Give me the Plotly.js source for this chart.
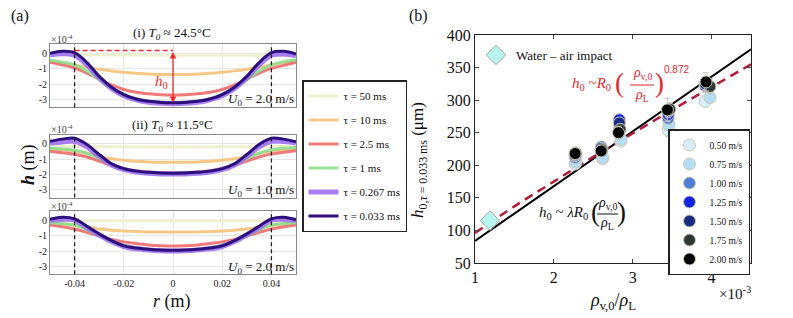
<!DOCTYPE html>
<html><head><meta charset="utf-8">
<script src="https://cdn.plot.ly/plotly-3.0.1.min.js"></script>
<style>html,body{margin:0;padding:0;background:#fff}#chart{width:793px;height:318px}</style>
</head><body><div id="chart"></div>
<script>
// ---------- Panel (a): film profiles h(r), values in units of 1e-4 m ----------
const r = [-0.05,-0.045,-0.04,-0.035,-0.03,-0.025,-0.02,-0.015,-0.01,-0.005,0,0.005,0.01,0.015,0.02,0.025,0.03,0.035,0.04,0.045,0.05];
const tauLabels = ['τ = 50 ms','τ = 10 ms','τ = 2.5 ms','τ = 1 ms','τ = 0.267 ms','τ = 0.033 ms'];

// (i) T0 ≈ 24.5°C, U0 = 2.0 m/s
const hI_50   = [-0.06,-0.07,-0.08,-0.09,-0.1,-0.1,-0.11,-0.11,-0.12,-0.12,-0.12,-0.12,-0.12,-0.12,-0.12,-0.12,-0.13,-0.13,-0.14,-0.14,-0.15];
const hI_10   = [-0.5,-0.62,-0.78,-0.92,-1.04,-1.15,-1.23,-1.3,-1.34,-1.37,-1.38,-1.37,-1.34,-1.3,-1.23,-1.14,-1.03,-0.9,-0.75,-0.6,-0.48];
const hI_2p5  = [-0.57,-0.75,-0.95,-1.28,-1.68,-2.05,-2.35,-2.53,-2.63,-2.69,-2.71,-2.69,-2.63,-2.53,-2.35,-2.05,-1.68,-1.3,-0.98,-0.78,-0.6];
const hI_1    = [-0.45,-0.58,-0.75,-1.15,-1.72,-2.25,-2.65,-2.95,-3.1,-3.17,-3.19,-3.17,-3.1,-2.95,-2.65,-2.25,-1.72,-1.15,-0.75,-0.55,-0.42];
const hI_0267 = [-0.1,-0.02,-0.12,-0.75,-1.6,-2.28,-2.75,-3.02,-3.18,-3.25,-3.27,-3.25,-3.18,-3.02,-2.75,-2.28,-1.6,-0.75,-0.12,-0.04,-0.15];
const hI_0033 = [0,0.13,0.04,-0.6,-1.5,-2.2,-2.68,-2.97,-3.12,-3.19,-3.21,-3.19,-3.12,-2.97,-2.68,-2.2,-1.5,-0.6,0.05,0.13,-0.05];

// (ii) T0 ≈ 11.5°C, U0 = 1.0 m/s
const hII_50   = [-0.18,-0.18,-0.19,-0.19,-0.2,-0.2,-0.2,-0.2,-0.21,-0.21,-0.21,-0.21,-0.21,-0.2,-0.2,-0.2,-0.2,-0.19,-0.19,-0.18,-0.18];
const hII_10   = [-0.35,-0.4,-0.48,-0.62,-0.82,-0.98,-1.08,-1.14,-1.18,-1.2,-1.2,-1.2,-1.18,-1.14,-1.08,-0.98,-0.82,-0.62,-0.48,-0.4,-0.35];
const hII_2p5  = [-0.5,-0.58,-0.68,-0.86,-1.12,-1.4,-1.62,-1.76,-1.84,-1.88,-1.9,-1.88,-1.84,-1.76,-1.62,-1.4,-1.12,-0.86,-0.66,-0.55,-0.45];
const hII_1    = [-0.3,-0.35,-0.42,-0.62,-0.95,-1.38,-1.66,-1.82,-1.9,-1.94,-1.95,-1.94,-1.9,-1.82,-1.66,-1.38,-0.95,-0.62,-0.4,-0.3,-0.25];
const hII_0267 = [0.05,0.12,0.16,-0.2,-0.82,-1.38,-1.68,-1.84,-1.92,-1.96,-1.97,-1.96,-1.92,-1.84,-1.68,-1.38,-0.82,-0.2,0.16,0.14,0.05];
const hII_0033 = [0.16,0.3,0.36,-0.05,-0.7,-1.3,-1.62,-1.78,-1.86,-1.9,-1.91,-1.9,-1.86,-1.78,-1.62,-1.3,-0.7,-0.05,0.36,0.3,0.12];

// (iii) U0 = 2.0 m/s
const hIII_50   = [-0.03,-0.03,-0.03,-0.03,-0.03,-0.03,-0.03,-0.03,-0.03,-0.03,-0.03,-0.03,-0.03,-0.03,-0.03,-0.03,-0.03,-0.03,-0.03,-0.03,-0.03];
const hIII_10   = [-0.15,-0.22,-0.33,-0.45,-0.56,-0.64,-0.7,-0.73,-0.75,-0.76,-0.76,-0.76,-0.75,-0.73,-0.7,-0.64,-0.56,-0.45,-0.33,-0.24,-0.17];
const hIII_2p5  = [-0.3,-0.42,-0.56,-0.78,-1.02,-1.24,-1.4,-1.5,-1.6,-1.65,-1.67,-1.65,-1.6,-1.5,-1.4,-1.24,-1.02,-0.78,-0.56,-0.42,-0.3];
const hIII_1    = [-0.15,-0.22,-0.3,-0.6,-1.0,-1.35,-1.6,-1.78,-1.9,-1.96,-1.98,-1.96,-1.9,-1.78,-1.6,-1.35,-1.0,-0.6,-0.3,-0.2,-0.15];
const hIII_0267 = [0.0,0.06,0.02,-0.48,-0.95,-1.38,-1.7,-1.85,-1.93,-1.98,-2.0,-1.98,-1.93,-1.85,-1.7,-1.38,-0.95,-0.48,0.02,0.06,0.0];
const hIII_0033 = [0.06,0.2,0.1,-0.38,-0.88,-1.32,-1.66,-1.8,-1.88,-1.93,-1.95,-1.93,-1.88,-1.8,-1.66,-1.32,-0.88,-0.38,0.1,0.2,0.04];

// ---------- Panel (b): h0 vs density ratio (x in 1e-3, y in µm) ----------
const velLabels = ['0.50 m/s','0.75 m/s','1.00 m/s','1.25 m/s','1.50 m/s','1.75 m/s','2.00 m/s'];
const x050 = [2.27,2.62,2.85,3.45,3.92], y050 = [202,210,237,254,298], e050 = [5,6,6,10,8];
const x075 = [2.28,2.62,2.85,3.46,3.98], y075 = [205,212,240,262,304], e075 = [6,8,6,8,8];
const x100 = [2.27,2.60,2.83,3.45,3.92], y100 = [212,222,255,272,322], e100 = [6,8,8,8,10];
const x125 = [2.27,2.60,2.83,3.45,3.92], y125 = [215,228,270,278,322], e125 = [5,6,8,8,10];
const x150 = [2.27,2.60,2.83,3.45,3.92], y150 = [217,226,265,283,325], e150 = [5,6,8,10,10];
const x175 = [2.28,2.61,2.84,3.47,3.98], y175 = [218,224,255,286,321], e175 = [6,6,8,10,12];
const x200 = [2.27,2.60,2.82,3.44,3.93], y200 = [218,222,250,285,328], e200 = [10,8,10,18,14];
const waterX = [1.19], waterY = [115];
const linFitX = [1, 4.5], linFitY = [84, 378];
const powFitX = [1,1.5,2,2.5,3,3.5,4,4.5], powFitY = [96,137,175,213,249,285,320,355];

// ---------- styles ----------
const W = 793, H = 318;
const tauColors = ['#eef0cf','#f5c27a','#ee6b6b','#8ddf8f','#9a68f2','#2c0f7d'];
const tauWidths = [3,3,3,3,5,3];
const tauOpac = [1,0.9,0.9,0.9,0.85,1];
const velColors = ['#d9eefa','#b4def5','#4f7fd4','#1224dd','#1a2d80','#2f3836','#000000'];

const panels = [
  {ax:'',  data:[hI_50,hI_10,hI_2p5,hI_1,hI_0267,hI_0033]},
  {ax:'2', data:[hII_50,hII_10,hII_2p5,hII_1,hII_0267,hII_0033]},
  {ax:'3', data:[hIII_50,hIII_10,hIII_2p5,hIII_1,hIII_0267,hIII_0033]}
];
const traces = [];
panels.forEach((p,pi)=>{
  p.data.forEach((h,i)=>{
    traces.push({x:r, y:h, type:'scatter', mode:'lines', xaxis:'x'+p.ax, yaxis:'y'+p.ax,
      line:{color:tauColors[i], width:tauWidths[i], shape:'spline', smoothing:1},
      opacity:tauOpac[i], name:tauLabels[i], legendgroup:'t'+i, showlegend:pi===0, legend:'legend',
      hoverinfo:'skip'});
  });
});
const vx=[x050,x075,x100,x125,x150,x175,x200], vy=[y050,y075,y100,y125,y150,y175,y200], ve=[e050,e075,e100,e125,e150,e175,e200];
traces.push({x:linFitX, y:linFitY, xaxis:'x4', yaxis:'y4', mode:'lines', line:{color:'#000', width:2}, showlegend:false});
traces.push({x:powFitX, y:powFitY, xaxis:'x4', yaxis:'y4', mode:'lines', line:{color:'#b01c3c', width:2.5, dash:'9px,6px', shape:'spline'}, showlegend:false});
velLabels.forEach((lab,i)=>{
  traces.push({x:vx[i], y:vy[i], xaxis:'x4', yaxis:'y4', mode:'markers', name:lab, legend:'legend2',
    marker:{color:velColors[i], size:12, line:{color:'#c9c9b8', width:1}},
    error_y:{type:'data', array:ve[i], color:'#c4c4c4', thickness:1, width:3}});
});
traces.push({x:waterX, y:waterY, xaxis:'x4', yaxis:'y4', mode:'markers', name:'Water – air impact', legend:'legend3',
  marker:{symbol:'diamond', color:'#b9f5ef', size:15, line:{color:'#a8a8a0', width:1}}});

// ---------- layout ----------
const px = v => v / W, py = v => 1 - v / H;
const serif = 'Liberation Serif, Times New Roman, serif';
const xDom = [px(50), px(296)];
function leftX(anchor, showLabels){
  return {domain:xDom, anchor:anchor, range:[-0.05,0.05], tickvals:[-0.04,-0.02,0,0.02,0.04],
    ticktext:['-0.04','-0.02','0','0.02','0.04'], showticklabels:showLabels, tickfont:{size:10, color:'#222'},
    showgrid:true, gridcolor:'#e6e6e6', zeroline:false, showline:true, linecolor:'#8a8a8a', linewidth:1, mirror:true, ticks:''};
}
function leftY(top, bottom, anchor){
  return {domain:[py(bottom), py(top)], anchor:anchor, range:[-3.5,0.6], tickvals:[-3,-2,-1,0], ticktext:['-3','-2','-1','0'],
    tickfont:{size:10, color:'#222'}, showgrid:true, gridcolor:'#e6e6e6', zeroline:false, showline:true, linecolor:'#8a8a8a',
    linewidth:1, mirror:true, ticks:''};
}
const ann = [];
function A(x, y, text, o){ ann.push(Object.assign({xref:'paper', yref:'paper', x:px(x), y:py(y), text:text, showarrow:false,
  font:{family:serif, size:13, color:'#111'}, xanchor:'center', yanchor:'middle'}, o||{})); }

A(20, 16, '(a)', {font:{family:serif, size:16, color:'#111'}});
A(418, 16, '(b)', {font:{family:serif, size:16, color:'#111'}});
A(172, 34, '(i) <i>T</i><sub><i>0</i></sub> ≈ 24.5°C', {font:{family:serif, size:13, color:'#111'}});
A(172, 125, '(ii) <i>T</i><sub>0</sub> ≈ 11.5°C', {font:{family:serif, size:13, color:'#111'}});
[39, 129, 206].forEach(y=>A(49, y, '×10<sup>-4</sup>', {xanchor:'left', font:{family:serif, size:10, color:'#444'}}));
[[100,'2.0'],[190,'1.0'],[267,'2.0']].forEach(([y,v])=>A(296, y, '<i>U</i><sub>0</sub> = '+v+' m/s', {xanchor:'right', font:{family:serif, size:13, color:'#111'}}));
A(28, 165, '<b><i>h</i></b> (m)', {textangle:-90, font:{family:serif, size:18, color:'#111'}});
A(172, 301, '<i>r</i> (m)', {font:{family:serif, size:18, color:'#111'}});
// h0 arrow in panel (i)
ann.push({xref:'x', yref:'y', x:0, y:-3.22, ax:0, ay:0.18, axref:'x', ayref:'y', text:'', showarrow:true,
  arrowside:'end+start', arrowhead:2, arrowsize:1, arrowwidth:1.3, arrowcolor:'#ee2a2a'});
ann.push({xref:'x', yref:'y', x:-0.0045, y:-1.85, text:'<i>h</i><sub>0</sub>', showarrow:false,
  font:{family:serif, size:15, color:'#ee2a2a'}});

// Panel (b) titles & formulas
A(419, 160, '<i>h</i><sub>0,<i>τ</i> = 0.033 ms</sub> (μm)', {textangle:-90, font:{family:serif, size:17, color:'#111'}});
A(613, 301, '<i>ρ</i><sub>v,0</sub>/<i>ρ</i><sub>L</sub>', {font:{family:serif, size:18, color:'#111'}});
A(735, 293, '×10<sup>-3</sup>', {font:{family:serif, size:15, color:'#111'}});
const red = '#e0262e';
A(613, 84, '<i>h</i><sub>0</sub> ~<i>R</i><sub>0</sub>', {xanchor:'right', font:{family:serif, size:15, color:red}});
A(619, 83, '(', {font:{family:serif, size:27, color:red}});
A(642, 74, '<i>ρ</i><sub>v,0</sub>', {font:{family:serif, size:14, color:red}});
A(642, 95, '<i>ρ</i><sub>L</sub>', {font:{family:serif, size:14, color:red}});
A(659, 83, ')', {font:{family:serif, size:27, color:red}});
A(662, 69, '0.872', {xanchor:'left', font:{family:'Liberation Sans, Arial, sans-serif', size:10, color:red}});
A(590, 213, '<i>h</i><sub>0</sub> ~ <i>λR</i><sub>0</sub>', {xanchor:'right', font:{family:serif, size:15, color:'#111'}});
A(595, 212, '(', {font:{family:serif, size:27, color:'#111'}});
A(607, 203, '<i>ρ</i><sub>v,0</sub>', {font:{family:serif, size:14, color:'#111'}});
A(607, 224, '<i>ρ</i><sub>L</sub>', {font:{family:serif, size:14, color:'#111'}});
A(621, 212, ')', {font:{family:serif, size:27, color:'#111'}});

const shapes = [];
['', '2', '3'].forEach(a=>{
  [-0.04, 0.04].forEach(xv=>shapes.push({type:'line', xref:'x'+a, yref:'y'+a+' domain', x0:xv, x1:xv, y0:0, y1:1,
    line:{color:'#222', width:1.3, dash:'4px,3px'}}));
});
shapes.push({type:'line', xref:'x', yref:'y', x0:-0.04, x1:0, y0:0.18, y1:0.18, line:{color:'#ee2a2a', width:1.5, dash:'5px,3px'}});
shapes.push({type:'line', xref:'paper', yref:'paper', x0:px(630), x1:px(654), y0:py(85), y1:py(85), line:{color:red, width:1}});
shapes.push({type:'line', xref:'paper', yref:'paper', x0:px(597), x1:px(618), y0:py(214), y1:py(214), line:{color:'#111', width:1}});

const layout = {
  width:W, height:H, margin:{l:0, r:0, t:0, b:0}, paper_bgcolor:'#fff', plot_bgcolor:'#fff',
  font:{family:serif, size:12, color:'#111'}, showlegend:true,
  xaxis: leftX('y', false), yaxis: leftY(44.1, 107.2, 'x'),
  xaxis2: leftX('y2', false), yaxis2: leftY(134.5, 197.6, 'x2'),
  xaxis3: leftX('y3', true), yaxis3: leftY(211.1, 274.2, 'x3'),
  xaxis4: {domain:[px(475), px(751)], anchor:'y4', range:[1,4.5], tickvals:[1,2,3,4], tickfont:{size:16, color:'#111'},
    showgrid:false, zeroline:false, showline:true, linecolor:'#222', linewidth:1, mirror:'ticks', ticks:'inside', ticklen:4, tickcolor:'#444'},
  yaxis4: {domain:[py(263), py(35)], anchor:'x4', range:[50,400], tickvals:[50,100,150,200,250,300,350,400], tickfont:{size:16, color:'#111'},
    showgrid:false, zeroline:false, showline:true, linecolor:'#222', linewidth:1, mirror:'ticks', ticks:'inside', ticklen:4, tickcolor:'#444'},
  legend: {x:px(302), y:py(80), xanchor:'left', yanchor:'top', bgcolor:'#fff', bordercolor:'#222', borderwidth:1.5,
    font:{family:serif, size:11, color:'#111'}, tracegroupgap:5, itemwidth:30},
  legend2: {x:px(668), y:py(129), xanchor:'left', yanchor:'top', bgcolor:'#fff', bordercolor:'#222', borderwidth:1.5,
    font:{family:serif, size:9.5, color:'#111'}, tracegroupgap:0, itemwidth:30},
  legend3: {x:px(476), y:py(40), xanchor:'left', yanchor:'top', bgcolor:'rgba(0,0,0,0)', borderwidth:0,
    font:{family:serif, size:13, color:'#111'}, itemwidth:30},
  annotations: ann, shapes: shapes
};
Plotly.newPlot('chart', traces, layout, {displayModeBar:false, staticPlot:true});
</script></body></html>
